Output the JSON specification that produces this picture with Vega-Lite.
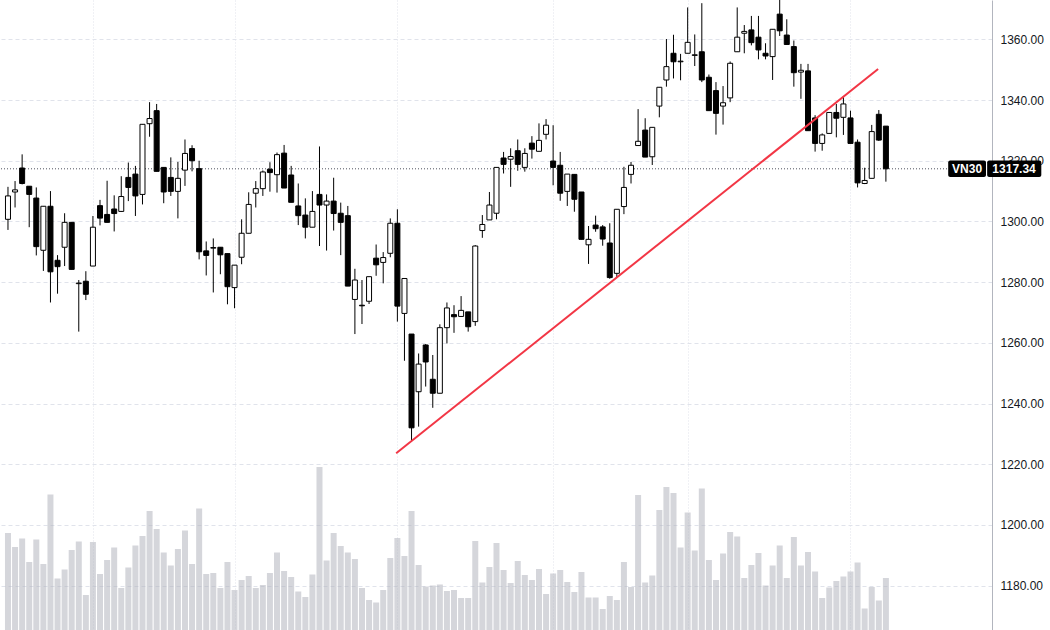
{
  "$schema": "https://vega.github.io/schema/vega-lite/v6.json",
  "width": 992,
  "height": 630,
  "autosize": {"type": "none"},
  "padding": {"left": 0, "top": 0, "right": 58, "bottom": 0},
  "background": "#ffffff",
  "config": {"view": {"stroke": null}, "font": "Liberation Sans"},
  "datasets": {
    "candles": [
      {"i":0,"o":1300.7,"h":1311.4,"l":1297.2,"c":1308.4,"v":194},
      {"i":1,"o":1309.7,"h":1313.3,"l":1304.6,"c":1310.4,"v":166},
      {"i":2,"o":1317.6,"h":1322.1,"l":1312.2,"c":1312.5,"v":183},
      {"i":3,"o":1311.6,"h":1311.6,"l":1298.1,"c":1308.9,"v":136},
      {"i":4,"o":1307.7,"h":1311.2,"l":1288.8,"c":1291.7,"v":181},
      {"i":5,"o":1290.5,"h":1305.0,"l":1283.7,"c":1305.0,"v":132},
      {"i":6,"o":1305.0,"h":1310.0,"l":1273.3,"c":1283.4,"v":271},
      {"i":7,"o":1287.2,"h":1288.9,"l":1276.2,"c":1285.1,"v":103},
      {"i":8,"o":1291.5,"h":1302.7,"l":1285.3,"c":1299.7,"v":121},
      {"i":9,"o":1299.7,"h":1299.7,"l":1284.2,"c":1284.2,"v":160},
      {"i":10,"o":1279.5,"h":1280.7,"l":1263.7,"c":1279.7,"v":177},
      {"i":11,"o":1280.3,"h":1283.6,"l":1274.1,"c":1276.0,"v":70},
      {"i":12,"o":1285.3,"h":1301.8,"l":1285.3,"c":1298.1,"v":176},
      {"i":13,"o":1305.2,"h":1307.1,"l":1298.7,"c":1301.1,"v":112},
      {"i":14,"o":1302.3,"h":1313.4,"l":1299.7,"c":1299.7,"v":140},
      {"i":15,"o":1304.1,"h":1308.6,"l":1296.7,"c":1302.6,"v":165},
      {"i":16,"o":1303.3,"h":1314.9,"l":1303.1,"c":1308.2,"v":84},
      {"i":17,"o":1314.5,"h":1319.4,"l":1306.7,"c":1311.2,"v":125},
      {"i":18,"o":1315.6,"h":1318.3,"l":1301.8,"c":1308.4,"v":169},
      {"i":19,"o":1308.9,"h":1332.0,"l":1305.6,"c":1332.0,"v":188},
      {"i":20,"o":1332.2,"h":1339.3,"l":1327.9,"c":1333.9,"v":238},
      {"i":21,"o":1336.5,"h":1338.7,"l":1316.5,"c":1316.5,"v":202},
      {"i":22,"o":1317.8,"h":1317.8,"l":1306.0,"c":1309.7,"v":155},
      {"i":23,"o":1314.5,"h":1321.1,"l":1308.4,"c":1309.9,"v":129},
      {"i":24,"o":1309.9,"h":1319.6,"l":1301.0,"c":1314.2,"v":162},
      {"i":25,"o":1316.9,"h":1327.0,"l":1311.7,"c":1322.4,"v":199},
      {"i":26,"o":1324.0,"h":1325.1,"l":1316.5,"c":1320.0,"v":132},
      {"i":27,"o":1317.4,"h":1320.0,"l":1287.5,"c":1290.0,"v":243},
      {"i":28,"o":1290.3,"h":1293.4,"l":1282.2,"c":1288.8,"v":112},
      {"i":29,"o":1291.2,"h":1294.4,"l":1276.6,"c":1291.4,"v":114},
      {"i":30,"o":1291.5,"h":1291.5,"l":1282.6,"c":1289.0,"v":84},
      {"i":31,"o":1289.4,"h":1289.4,"l":1272.7,"c":1278.5,"v":136},
      {"i":32,"o":1278.2,"h":1285.6,"l":1271.4,"c":1285.6,"v":80},
      {"i":33,"o":1288.2,"h":1300.7,"l":1285.9,"c":1296.1,"v":100},
      {"i":34,"o":1296.1,"h":1309.6,"l":1296.1,"c":1305.6,"v":108},
      {"i":35,"o":1309.3,"h":1313.3,"l":1304.6,"c":1310.8,"v":84},
      {"i":36,"o":1310.8,"h":1316.8,"l":1308.4,"c":1316.3,"v":90},
      {"i":37,"o":1317.2,"h":1319.5,"l":1309.8,"c":1316.1,"v":114},
      {"i":38,"o":1315.4,"h":1322.7,"l":1309.5,"c":1322.0,"v":155},
      {"i":39,"o":1322.5,"h":1325.2,"l":1311.0,"c":1311.0,"v":118},
      {"i":40,"o":1315.3,"h":1318.3,"l":1306.3,"c":1306.3,"v":106},
      {"i":41,"o":1305.1,"h":1312.5,"l":1298.8,"c":1301.9,"v":77},
      {"i":42,"o":1302.1,"h":1307.6,"l":1294.4,"c":1298.1,"v":66},
      {"i":43,"o":1298.1,"h":1310.0,"l":1298.1,"c":1303.3,"v":111},
      {"i":44,"o":1308.9,"h":1324.7,"l":1291.9,"c":1305.4,"v":326},
      {"i":45,"o":1305.4,"h":1308.9,"l":1290.4,"c":1306.7,"v":139},
      {"i":46,"o":1306.7,"h":1314.4,"l":1297.0,"c":1302.6,"v":194},
      {"i":47,"o":1302.7,"h":1306.2,"l":1288.9,"c":1299.7,"v":168},
      {"i":48,"o":1301.9,"h":1305.1,"l":1278.7,"c":1278.7,"v":155},
      {"i":49,"o":1274.3,"h":1284.4,"l":1262.9,"c":1280.7,"v":142},
      {"i":50,"o":1272.4,"h":1280.7,"l":1266.2,"c":1272.2,"v":84},
      {"i":51,"o":1273.7,"h":1281.8,"l":1272.8,"c":1281.8,"v":60},
      {"i":52,"o":1287.9,"h":1292.4,"l":1282.1,"c":1285.7,"v":55},
      {"i":53,"o":1286.5,"h":1289.9,"l":1279.6,"c":1288.1,"v":80},
      {"i":54,"o":1289.5,"h":1301.0,"l":1288.2,"c":1299.4,"v":144},
      {"i":55,"o":1299.4,"h":1304.0,"l":1267.0,"c":1272.1,"v":184},
      {"i":56,"o":1269.7,"h":1281.2,"l":1254.1,"c":1281.2,"v":148},
      {"i":57,"o":1262.9,"h":1262.9,"l":1227.4,"c":1232.0,"v":238},
      {"i":58,"o":1243.9,"h":1256.5,"l":1232.4,"c":1253.0,"v":130},
      {"i":59,"o":1259.3,"h":1259.6,"l":1245.6,"c":1253.7,"v":87},
      {"i":60,"o":1248.0,"h":1256.0,"l":1238.6,"c":1243.4,"v":89},
      {"i":61,"o":1243.4,"h":1266.1,"l":1243.4,"c":1265.0,"v":91},
      {"i":62,"o":1265.0,"h":1273.3,"l":1259.8,"c":1271.5,"v":78},
      {"i":63,"o":1269.3,"h":1272.4,"l":1263.3,"c":1268.6,"v":80},
      {"i":64,"o":1268.7,"h":1275.4,"l":1268.7,"c":1270.7,"v":64},
      {"i":65,"o":1270.2,"h":1270.2,"l":1263.7,"c":1265.3,"v":64},
      {"i":66,"o":1267.0,"h":1292.2,"l":1265.6,"c":1291.9,"v":178},
      {"i":67,"o":1297.0,"h":1302.1,"l":1294.6,"c":1299.0,"v":95},
      {"i":68,"o":1300.5,"h":1309.7,"l":1300.5,"c":1305.4,"v":126},
      {"i":69,"o":1302.7,"h":1317.8,"l":1300.7,"c":1317.8,"v":174},
      {"i":70,"o":1320.9,"h":1322.9,"l":1315.8,"c":1318.8,"v":120},
      {"i":71,"o":1320.5,"h":1324.1,"l":1311.4,"c":1321.4,"v":94},
      {"i":72,"o":1323.3,"h":1327.0,"l":1316.7,"c":1318.8,"v":138},
      {"i":73,"o":1317.8,"h":1324.1,"l":1316.4,"c":1322.4,"v":110},
      {"i":74,"o":1325.8,"h":1328.1,"l":1320.7,"c":1323.8,"v":100},
      {"i":75,"o":1323.1,"h":1332.3,"l":1323.1,"c":1326.7,"v":122},
      {"i":76,"o":1328.7,"h":1333.7,"l":1327.0,"c":1331.7,"v":72},
      {"i":77,"o":1319.9,"h":1331.7,"l":1311.9,"c":1317.8,"v":113},
      {"i":78,"o":1318.5,"h":1322.9,"l":1306.8,"c":1309.3,"v":120},
      {"i":79,"o":1309.9,"h":1315.6,"l":1305.1,"c":1315.6,"v":96},
      {"i":80,"o":1315.5,"h":1315.5,"l":1303.2,"c":1307.3,"v":76},
      {"i":81,"o":1309.7,"h":1309.7,"l":1294.1,"c":1294.1,"v":116},
      {"i":82,"o":1292.3,"h":1298.5,"l":1286.0,"c":1294.1,"v":65},
      {"i":83,"o":1298.8,"h":1301.9,"l":1296.6,"c":1297.6,"v":65},
      {"i":84,"o":1298.2,"h":1298.8,"l":1292.0,"c":1294.2,"v":42},
      {"i":85,"o":1292.9,"h":1299.4,"l":1281.1,"c":1281.5,"v":68},
      {"i":86,"o":1282.9,"h":1304.0,"l":1281.6,"c":1304.0,"v":60},
      {"i":87,"o":1304.9,"h":1318.0,"l":1302.4,"c":1311.2,"v":136},
      {"i":88,"o":1315.5,"h":1319.6,"l":1312.5,"c":1318.5,"v":86},
      {"i":89,"o":1325.0,"h":1337.0,"l":1325.0,"c":1326.4,"v":270},
      {"i":90,"o":1330.1,"h":1334.0,"l":1321.2,"c":1321.2,"v":95},
      {"i":91,"o":1321.3,"h":1331.0,"l":1318.6,"c":1331.0,"v":109},
      {"i":92,"o":1338.0,"h":1344.2,"l":1334.3,"c":1344.2,"v":240},
      {"i":93,"o":1346.6,"h":1360.1,"l":1344.4,"c":1351.0,"v":286},
      {"i":94,"o":1355.4,"h":1361.5,"l":1347.1,"c":1352.6,"v":274},
      {"i":95,"o":1352.6,"h":1355.2,"l":1346.5,"c":1352.8,"v":165},
      {"i":96,"o":1355.4,"h":1370.5,"l":1355.4,"c":1359.0,"v":235},
      {"i":97,"o":1354.7,"h":1361.6,"l":1351.2,"c":1354.9,"v":159},
      {"i":98,"o":1355.9,"h":1371.9,"l":1345.9,"c":1346.6,"v":283},
      {"i":99,"o":1347.5,"h":1348.4,"l":1336.5,"c":1336.5,"v":140},
      {"i":100,"o":1343.1,"h":1345.9,"l":1328.6,"c":1335.6,"v":100},
      {"i":101,"o":1338.0,"h":1344.6,"l":1331.9,"c":1339.1,"v":153},
      {"i":102,"o":1340.7,"h":1352.7,"l":1339.3,"c":1352.1,"v":196},
      {"i":103,"o":1355.9,"h":1370.5,"l":1355.9,"c":1360.7,"v":187},
      {"i":104,"o":1362.0,"h":1364.7,"l":1355.4,"c":1362.6,"v":104},
      {"i":105,"o":1363.1,"h":1367.7,"l":1358.0,"c":1358.9,"v":130},
      {"i":106,"o":1360.7,"h":1367.7,"l":1353.4,"c":1356.5,"v":154},
      {"i":107,"o":1355.4,"h":1358.7,"l":1353.4,"c":1354.5,"v":89},
      {"i":108,"o":1354.3,"h":1363.3,"l":1346.6,"c":1363.3,"v":129},
      {"i":109,"o":1368.3,"h":1373.5,"l":1361.1,"c":1362.8,"v":169},
      {"i":110,"o":1361.4,"h":1366.6,"l":1358.3,"c":1358.3,"v":104},
      {"i":111,"o":1357.6,"h":1359.6,"l":1344.4,"c":1349.0,"v":186},
      {"i":112,"o":1349.2,"h":1351.9,"l":1340.4,"c":1349.8,"v":129},
      {"i":113,"o":1349.6,"h":1351.9,"l":1329.9,"c":1329.9,"v":156},
      {"i":114,"o":1334.1,"h":1335.0,"l":1323.0,"c":1325.7,"v":117},
      {"i":115,"o":1325.7,"h":1329.0,"l":1323.3,"c":1328.5,"v":64},
      {"i":116,"o":1329.0,"h":1335.9,"l":1329.0,"c":1335.9,"v":85},
      {"i":117,"o":1335.9,"h":1338.7,"l":1327.7,"c":1334.0,"v":98},
      {"i":118,"o":1334.3,"h":1341.3,"l":1328.5,"c":1338.7,"v":107},
      {"i":119,"o":1334.1,"h":1336.5,"l":1325.7,"c":1325.7,"v":117},
      {"i":120,"o":1326.1,"h":1327.0,"l":1311.2,"c":1312.7,"v":135},
      {"i":121,"o":1312.5,"h":1317.7,"l":1312.3,"c":1313.5,"v":43},
      {"i":122,"o":1314.2,"h":1331.8,"l":1314.2,"c":1329.6,"v":86},
      {"i":123,"o":1335.3,"h":1336.7,"l":1326.5,"c":1326.8,"v":59},
      {"i":124,"o":1331.4,"h":1331.4,"l":1313.1,"c":1317.34,"v":104}
    ],
    "trend": [
      {"i": 54.83, "p": 1223.6},
      {"i": 122.9, "p": 1350.2}
    ],
    "last": [
      {"name": "VN30", "price": 1317.34, "label": "1317.34"}
    ]
  },
  "layer": [
    {
      "data": {"name": "candles"},
      "mark": {"type": "bar", "size": 6, "color": "#b2b5be", "opacity": 0.55},
      "encoding": {
        "x": {"field": "i", "type": "quantitative",
              "scale": {"domain": [-0.42, 138.28], "nice": false, "zero": false},
              "axis": {"values": [12, 32, 55, 77, 96, 119], "grid": true, "gridColor": "#e0e3eb", "gridDash": [1, 2], "labels": false, "ticks": false, "domain": false, "title": null}},
        "y": {"field": "v", "type": "quantitative", "scale": {"domain": [0, 1260], "nice": false}, "axis": null}
      }
    },
    {
      "layer": [
        {
          "data": {"name": "candles"},
          "mark": {"type": "rule", "color": "#000000", "strokeWidth": 1},
          "encoding": {
            "x": {"field": "i", "type": "quantitative", "scale": {"domain": [-0.42, 138.28], "nice": false, "zero": false},
                  "axis": {"values": [12, 32, 55, 77, 96, 119], "grid": true, "gridColor": "#e0e3eb", "gridDash": [1, 2], "labels": false, "ticks": false, "domain": false, "title": null}},
            "y": {"field": "l", "type": "quantitative",
                  "scale": {"domain": [1165.4, 1372.95], "nice": false, "zero": false},
                  "axis": {"orient": "right", "values": [1180, 1200, 1220, 1240, 1260, 1280, 1300, 1320, 1340, 1360], "format": ".2f", "title": null, "ticks": false, "labelPadding": 8, "labelFontSize": 12, "labelColor": "#131722", "labelFont": "Liberation Sans", "domain": true, "domainColor": "#b2b5be", "grid": true, "gridColor": "#e0e3eb", "gridDash": [4, 3]}},
            "y2": {"field": "h"}
          }
        },
        {
          "data": {"name": "last"},
          "mark": {"type": "rule", "strokeDash": [1, 2], "color": "#50535e", "strokeWidth": 1},
          "encoding": {
            "y": {"field": "price", "type": "quantitative",
                  "scale": {"domain": [1165.4, 1372.95], "nice": false, "zero": false},
                  "axis": {"orient": "right", "values": [1180, 1200, 1220, 1240, 1260, 1280, 1300, 1320, 1340, 1360], "format": ".2f", "title": null, "ticks": false, "labelPadding": 8, "labelFontSize": 12, "labelColor": "#131722", "labelFont": "Liberation Sans", "domain": true, "domainColor": "#b2b5be", "grid": true, "gridColor": "#e0e3eb", "gridDash": [4, 3]}}
          }
        },
        {
          "data": {"name": "candles"},
          "mark": {"type": "bar", "size": 5, "stroke": "#000000", "strokeWidth": 1},
          "encoding": {
            "x": {"field": "i", "type": "quantitative", "scale": {"domain": [-0.42, 138.28], "nice": false, "zero": false},
                  "axis": {"values": [12, 32, 55, 77, 96, 119], "grid": true, "gridColor": "#e0e3eb", "gridDash": [1, 2], "labels": false, "ticks": false, "domain": false, "title": null}},
            "y": {"field": "o", "type": "quantitative", "scale": {"domain": [1165.4, 1372.95], "nice": false, "zero": false},
                  "axis": {"orient": "right", "values": [1180, 1200, 1220, 1240, 1260, 1280, 1300, 1320, 1340, 1360], "format": ".2f", "title": null, "ticks": false, "labelPadding": 8, "labelFontSize": 12, "labelColor": "#131722", "labelFont": "Liberation Sans", "domain": true, "domainColor": "#b2b5be", "grid": true, "gridColor": "#e0e3eb", "gridDash": [4, 3]}},
            "y2": {"field": "c"},
            "fill": {"condition": {"test": "datum.c >= datum.o", "value": "#ffffff"}, "value": "#000000"}
          }
        },
        {
          "data": {"name": "trend"},
          "mark": {"type": "line", "color": "#f23645", "strokeWidth": 2},
          "encoding": {
            "x": {"field": "i", "type": "quantitative", "scale": {"domain": [-0.42, 138.28], "nice": false, "zero": false},
                  "axis": {"values": [12, 32, 55, 77, 96, 119], "grid": true, "gridColor": "#e0e3eb", "gridDash": [1, 2], "labels": false, "ticks": false, "domain": false, "title": null}},
            "y": {"field": "p", "type": "quantitative", "scale": {"domain": [1165.4, 1372.95], "nice": false, "zero": false},
                  "axis": {"orient": "right", "values": [1180, 1200, 1220, 1240, 1260, 1280, 1300, 1320, 1340, 1360], "format": ".2f", "title": null, "ticks": false, "labelPadding": 8, "labelFontSize": 12, "labelColor": "#131722", "labelFont": "Liberation Sans", "domain": true, "domainColor": "#b2b5be", "grid": true, "gridColor": "#e0e3eb", "gridDash": [4, 3]}}
          }
        },
        {
          "data": {"name": "last"},
          "layer": [
            {
              "mark": {"type": "rect", "color": "#000000", "cornerRadius": 2},
              "encoding": {
                "x": {"datum": 132.8, "type": "quantitative", "scale": {"domain": [-0.42, 138.28], "nice": false, "zero": false},
                      "axis": {"values": [12, 32, 55, 77, 96, 119], "grid": true, "gridColor": "#e0e3eb", "gridDash": [1, 2], "labels": false, "ticks": false, "domain": false, "title": null}},
                "x2": {"datum": 138.14},
                "y": {"datum": 1320.1, "type": "quantitative", "scale": {"domain": [1165.4, 1372.95], "nice": false, "zero": false},
                      "axis": {"orient": "right", "values": [1180, 1200, 1220, 1240, 1260, 1280, 1300, 1320, 1340, 1360], "format": ".2f", "title": null, "ticks": false, "labelPadding": 8, "labelFontSize": 12, "labelColor": "#131722", "labelFont": "Liberation Sans", "domain": true, "domainColor": "#b2b5be", "grid": true, "gridColor": "#e0e3eb", "gridDash": [4, 3]}},
                "y2": {"datum": 1314.6}
              }
            },
            {
              "mark": {"type": "rect", "color": "#000000", "cornerRadius": 2},
              "encoding": {
                "x": {"datum": 138.3, "type": "quantitative", "scale": {"domain": [-0.42, 138.28], "nice": false, "zero": false},
                      "axis": {"values": [12, 32, 55, 77, 96, 119], "grid": true, "gridColor": "#e0e3eb", "gridDash": [1, 2], "labels": false, "ticks": false, "domain": false, "title": null}},
                "x2": {"datum": 145.95},
                "y": {"datum": 1320.1, "type": "quantitative", "scale": {"domain": [1165.4, 1372.95], "nice": false, "zero": false},
                      "axis": {"orient": "right", "values": [1180, 1200, 1220, 1240, 1260, 1280, 1300, 1320, 1340, 1360], "format": ".2f", "title": null, "ticks": false, "labelPadding": 8, "labelFontSize": 12, "labelColor": "#131722", "labelFont": "Liberation Sans", "domain": true, "domainColor": "#b2b5be", "grid": true, "gridColor": "#e0e3eb", "gridDash": [4, 3]}},
                "y2": {"datum": 1314.6}
              }
            },
            {
              "mark": {"type": "text", "color": "#ffffff", "fontWeight": "bold", "fontSize": 12, "font": "Liberation Sans", "align": "center", "baseline": "middle"},
              "encoding": {
                "text": {"field": "name"},
                "x": {"datum": 135.47, "type": "quantitative", "scale": {"domain": [-0.42, 138.28], "nice": false, "zero": false},
                      "axis": {"values": [12, 32, 55, 77, 96, 119], "grid": true, "gridColor": "#e0e3eb", "gridDash": [1, 2], "labels": false, "ticks": false, "domain": false, "title": null}},
                "y": {"field": "price", "type": "quantitative", "scale": {"domain": [1165.4, 1372.95], "nice": false, "zero": false},
                      "axis": {"orient": "right", "values": [1180, 1200, 1220, 1240, 1260, 1280, 1300, 1320, 1340, 1360], "format": ".2f", "title": null, "ticks": false, "labelPadding": 8, "labelFontSize": 12, "labelColor": "#131722", "labelFont": "Liberation Sans", "domain": true, "domainColor": "#b2b5be", "grid": true, "gridColor": "#e0e3eb", "gridDash": [4, 3]}}
              }
            },
            {
              "mark": {"type": "text", "color": "#ffffff", "fontWeight": "bold", "fontSize": 12, "font": "Liberation Sans", "align": "center", "baseline": "middle"},
              "encoding": {
                "text": {"field": "label"},
                "x": {"datum": 142.1, "type": "quantitative", "scale": {"domain": [-0.42, 138.28], "nice": false, "zero": false},
                      "axis": {"values": [12, 32, 55, 77, 96, 119], "grid": true, "gridColor": "#e0e3eb", "gridDash": [1, 2], "labels": false, "ticks": false, "domain": false, "title": null}},
                "y": {"field": "price", "type": "quantitative", "scale": {"domain": [1165.4, 1372.95], "nice": false, "zero": false},
                      "axis": {"orient": "right", "values": [1180, 1200, 1220, 1240, 1260, 1280, 1300, 1320, 1340, 1360], "format": ".2f", "title": null, "ticks": false, "labelPadding": 8, "labelFontSize": 12, "labelColor": "#131722", "labelFont": "Liberation Sans", "domain": true, "domainColor": "#b2b5be", "grid": true, "gridColor": "#e0e3eb", "gridDash": [4, 3]}}
              }
            }
          ]
        }
      ]
    }
  ],
  "resolve": {"scale": {"y": "independent"}}
}
